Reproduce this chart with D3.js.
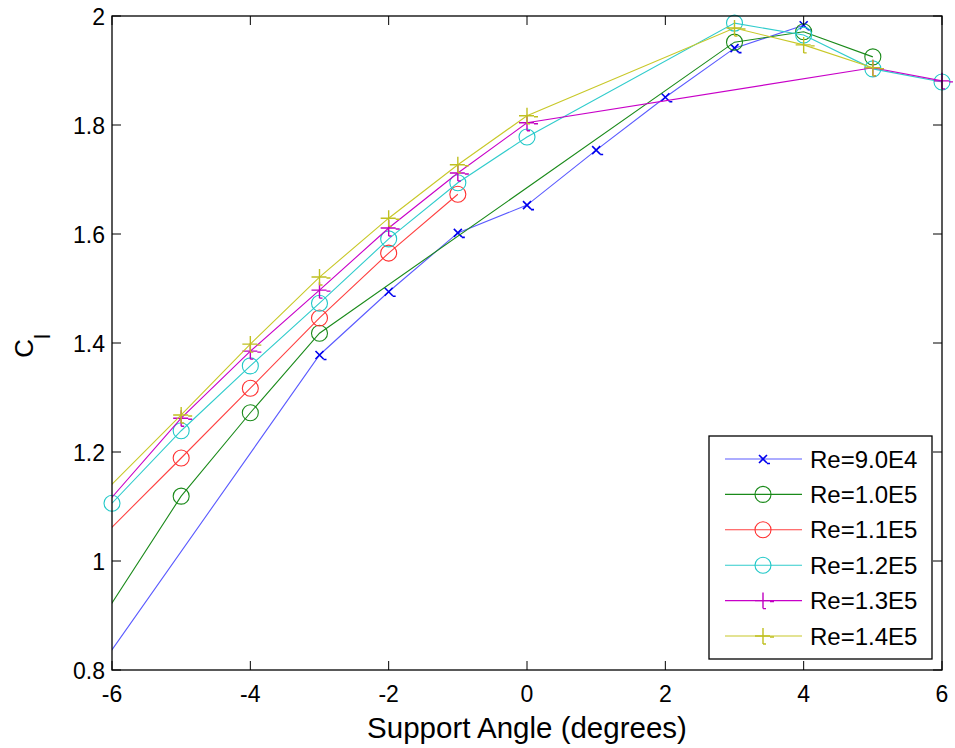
<!DOCTYPE html>
<html>
<head>
<meta charset="utf-8">
<script src="https://cdn.jsdelivr.net/npm/d3@7"></script>
<style>
  body { margin: 0; background: #fff; }
  text { font-family: "Liberation Sans", Arial, sans-serif; fill: #000; }
</style>
</head>
<body>
<div id="viz"></div>
<script>
// series labels, as in the legend
const seriesNames = ["Re=9.0E4", "Re=1.0E5", "Re=1.1E5", "Re=1.2E5", "Re=1.3E5", "Re=1.4E5"];

// support angle (deg) and lift coefficient, one pair per series
// (x = -7 points sit outside the axes and are clipped away)
const angleRe90 = [-7, -3, -2, -1, 0, 1, 2, 3, 4];
const clRe90 = [0.657, 1.378, 1.494, 1.602, 1.653, 1.754, 1.851, 1.941, 1.983];

const angleRe100 = [-7, -5, -4, -3, 3, 4, 5];
const clRe100 = [0.727, 1.119, 1.272, 1.418, 1.952, 1.971, 1.925];

const angleRe110 = [-7, -5, -4, -3, -2, -1];
const clRe110 = [0.935, 1.189, 1.317, 1.446, 1.565, 1.673];

const angleRe120 = [-6, -5, -4, -3, -2, -1, 0, 3, 4, 5, 6];
const clRe120 = [1.106, 1.239, 1.358, 1.473, 1.591, 1.694, 1.778, 1.987, 1.965, 1.903, 1.879];

const angleRe130 = [-7, -5, -4, -3, -2, -1, 0, 5, 6];
const clRe130 = [0.972, 1.262, 1.385, 1.497, 1.611, 1.712, 1.804, 1.905, 1.881];

const angleRe140 = [-7, -5, -4, -3, -2, -1, 0, 3, 4, 5];
const clRe140 = [1.014, 1.268, 1.398, 1.521, 1.629, 1.727, 1.817, 1.978, 1.947, 1.905];

const xTicks = [-6, -4, -2, 0, 2, 4, 6];
const yTicks = [0.8, 1, 1.2, 1.4, 1.6, 1.8, 2];

const markerTypes = ["x", "o", "o", "o", "+", "+"];
const lineColors = ["#5a5aff", "#1a8a1a", "#ff4040", "#30cccc", "#c800c8", "#c8c828"];
const markColors = ["#0000ee", "#1a8a1a", "#ff3030", "#20c8c8", "#c000c0", "#c0c020"];

document.addEventListener("DOMContentLoaded", () => {

    const width = 955;
    const height = 748;
    const margin = { top: 16, right: 13, bottom: 78, left: 112 };

    const svg = d3.select("#viz")
        .append("svg")
        .attr("width", width)
        .attr("height", height);

    const x = d3.scaleLinear()
        .domain([-6, 6])
        .range([margin.left, width - margin.right]);

    const y = d3.scaleLinear()
        .domain([0.8, 2])
        .range([height - margin.bottom, margin.top]);

    const series = [
        [angleRe90, clRe90], [angleRe100, clRe100], [angleRe110, clRe110],
        [angleRe120, clRe120], [angleRe130, clRe130], [angleRe140, clRe140]
    ].map(([a, c], i) => ({
        name: seriesNames[i],
        marker: markerTypes[i],
        line: lineColors[i],
        mark: markColors[i],
        points: a.map((v, j) => ({ x: v, y: c[j] }))
    }));

    svg.append("clipPath")
        .attr("id", "plot-clip")
        .append("rect")
        .attr("x", x(-6))
        .attr("y", y(2))
        .attr("width", x(6) - x(-6))
        .attr("height", y(0.8) - y(2));

    const line = d3.line()
        .x(d => x(d.x))
        .y(d => y(d.y));

    // marker shapes, including the small stray dashes the original renderer left
    const markerPath = type => {
        if (type === "x") return "M-4,-4L4,4M-4,4L4,-4M4,4.5L7,4.5";
        if (type === "+") return "M0,-8V8M-8,0H7M7,1H11M0,8H3";
        return null;
    };

    const drawMarker = (g, type, color, cx, cy) => {
        if (type === "o") {
            g.append("circle")
                .attr("cx", cx)
                .attr("cy", cy)
                .attr("r", 8)
                .attr("fill", "none")
                .attr("stroke", color)
                .attr("stroke-width", 1.1);
        } else {
            g.append("path")
                .attr("transform", `translate(${cx},${cy})`)
                .attr("d", markerPath(type))
                .attr("fill", "none")
                .attr("stroke", color)
                .attr("stroke-width", type === "x" ? 1.6 : 1.4);
        }
    };

    series.forEach(s => {
        const g = svg.append("g");
        g.append("path")
            .attr("d", line(s.points))
            .attr("clip-path", "url(#plot-clip)")
            .attr("fill", "none")
            .attr("stroke", s.line)
            .attr("stroke-width", 1.1);
        s.points
            .filter(p => p.x >= -6 && p.x <= 6)
            .forEach(p => drawMarker(g, s.marker, s.mark, x(p.x), y(p.y)));
    });

    // axes box with inward ticks on all four sides
    const axes = svg.append("g");
    const tickLen = 9;

    axes.append("rect")
        .attr("x", x(-6))
        .attr("y", y(2))
        .attr("width", x(6) - x(-6))
        .attr("height", y(0.8) - y(2))
        .attr("fill", "none")
        .attr("stroke", "#000")
        .attr("stroke-width", 1.3);

    xTicks.forEach(t => {
        axes.append("line")
            .attr("x1", x(t)).attr("x2", x(t))
            .attr("y1", y(0.8)).attr("y2", y(0.8) - tickLen)
            .attr("stroke", "#000");
        axes.append("line")
            .attr("x1", x(t)).attr("x2", x(t))
            .attr("y1", y(2)).attr("y2", y(2) + tickLen)
            .attr("stroke", "#000");
        axes.append("text")
            .attr("x", x(t))
            .attr("y", 702)
            .attr("text-anchor", "middle")
            .style("font-size", "23px")
            .text(t);
    });

    yTicks.forEach(t => {
        axes.append("line")
            .attr("x1", x(-6)).attr("x2", x(-6) + tickLen)
            .attr("y1", y(t)).attr("y2", y(t))
            .attr("stroke", "#000");
        axes.append("line")
            .attr("x1", x(6)).attr("x2", x(6) - tickLen)
            .attr("y1", y(t)).attr("y2", y(t))
            .attr("stroke", "#000");
        axes.append("text")
            .attr("x", 105)
            .attr("y", y(t) + 9)
            .attr("text-anchor", "end")
            .style("font-size", "23px")
            .text(t === 1 ? "1" : d3.format(".1f")(t).replace(/\.0$/, ""));
    });

    svg.append("text")
        .attr("x", (x(-6) + x(6)) / 2)
        .attr("y", 738)
        .attr("text-anchor", "middle")
        .style("font-size", "29.5px")
        .text("Support Angle (degrees)");

    const ylab = svg.append("text")
        .attr("transform", "translate(33,346) rotate(-90)")
        .attr("text-anchor", "middle")
        .style("font-size", "26px");
    ylab.append("tspan").text("C");
    ylab.append("tspan")
        .attr("dy", 17)
        .style("font-size", "22px")
        .text("l");

    // legend
    const legend = svg.append("g");
    legend.append("rect")
        .attr("x", 709)
        .attr("y", 436)
        .attr("width", 223)
        .attr("height", 223)
        .attr("fill", "#fff")
        .attr("stroke", "#000")
        .attr("stroke-width", 1.3);

    series.forEach((s, i) => {
        const ly = 459 + i * 35.4;
        legend.append("line")
            .attr("x1", 725).attr("x2", 802)
            .attr("y1", ly).attr("y2", ly)
            .attr("stroke", s.line)
            .attr("stroke-width", 1.1);
        drawMarker(legend, s.marker, s.mark, 763, ly);
        legend.append("text")
            .attr("x", 810)
            .attr("y", ly + 8.5)
            .style("font-size", "24px")
            .text(s.name);
    });
});
</script>
</body>
</html>
